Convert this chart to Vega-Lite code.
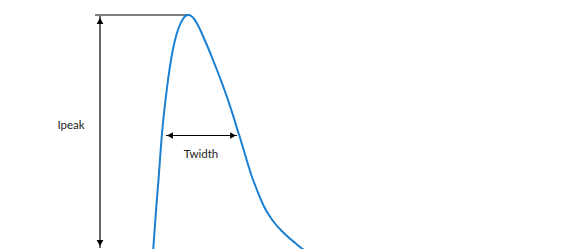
{
  "$schema": "https://vega.github.io/schema/vega-lite/v6.json",
  "width": 574,
  "height": 249,
  "autosize": {"type": "fit", "contains": "padding"},
  "padding": 0,
  "background": "white",
  "config": {"view": {"stroke": null}},
  "datasets": {
    "curve": [
      {"t": 152.6, "i": 262}, {"t": 153.3, "i": 249}, {"t": 155, "i": 225}, {"t": 156.8, "i": 200},
      {"t": 158.5, "i": 180}, {"t": 160.3, "i": 155}, {"t": 161.7, "i": 137}, {"t": 163.3, "i": 120},
      {"t": 165.5, "i": 100}, {"t": 168, "i": 80}, {"t": 171.5, "i": 57}, {"t": 175, "i": 40},
      {"t": 179, "i": 27}, {"t": 183, "i": 19}, {"t": 186, "i": 15.7}, {"t": 188.3, "i": 15},
      {"t": 191.5, "i": 16.2}, {"t": 194.3, "i": 19.2}, {"t": 197.3, "i": 24}, {"t": 200.3, "i": 30},
      {"t": 204.7, "i": 40}, {"t": 209, "i": 50}, {"t": 213, "i": 60}, {"t": 217, "i": 70},
      {"t": 220.8, "i": 80}, {"t": 224.5, "i": 90}, {"t": 228, "i": 100}, {"t": 231.3, "i": 110},
      {"t": 234.5, "i": 120}, {"t": 237.5, "i": 130}, {"t": 239.8, "i": 137}, {"t": 242.5, "i": 146},
      {"t": 245.5, "i": 156}, {"t": 248.8, "i": 167}, {"t": 252, "i": 177}, {"t": 255.4, "i": 186},
      {"t": 259.4, "i": 196}, {"t": 264, "i": 206.5}, {"t": 269.2, "i": 215.5}, {"t": 275, "i": 223.5},
      {"t": 281.3, "i": 230.5}, {"t": 287.8, "i": 236.7}, {"t": 294.6, "i": 242.5}, {"t": 301.7, "i": 248.3},
      {"t": 312, "i": 254.5}
    ],
    "rules": [
      {"x1": 95, "y1": 15, "x2": 190, "y2": 15},
      {"x1": 100, "y1": 16, "x2": 100, "y2": 248},
      {"x1": 166, "y1": 135.5, "x2": 237, "y2": 135.5}
    ],
    "heads": [
      {"x": 100, "y": 21, "dir": "triangle-up"},
      {"x": 100, "y": 243, "dir": "triangle-down"},
      {"x": 170, "y": 135.5, "dir": "triangle-left"},
      {"x": 233, "y": 135.5, "dir": "triangle-right"}
    ],
    "labels": [
      {"x": 71, "y": 126, "text": "Ipeak"},
      {"x": 201, "y": 155, "text": "Twidth"}
    ]
  },
  "layer": [
    {
      "data": {"name": "rules"},
      "mark": {"type": "rule", "color": "black", "strokeWidth": 1.2},
      "encoding": {
        "x": {"field": "x1", "type": "quantitative", "scale": {"domain": [0, 574], "nice": false, "zero": false}, "axis": null},
        "x2": {"field": "x2"},
        "y": {"field": "y1", "type": "quantitative", "scale": {"domain": [0, 249], "reverse": true, "nice": false, "zero": false}, "axis": null},
        "y2": {"field": "y2"}
      }
    },
    {
      "data": {"name": "heads"},
      "mark": {"type": "point", "filled": true, "color": "black", "size": 45, "opacity": 1},
      "encoding": {
        "x": {"field": "x", "type": "quantitative"},
        "y": {"field": "y", "type": "quantitative"},
        "shape": {"field": "dir", "type": "nominal", "scale": null}
      }
    },
    {
      "data": {"name": "curve"},
      "mark": {"type": "line", "color": "#1b80d2", "strokeWidth": 2, "interpolate": "monotone", "clip": true},
      "encoding": {
        "x": {"field": "t", "type": "quantitative"},
        "y": {"field": "i", "type": "quantitative"}
      }
    },
    {
      "data": {"name": "labels"},
      "mark": {"type": "text", "font": "Lato", "fontSize": 11.5, "color": "#222", "align": "center", "baseline": "middle"},
      "encoding": {
        "x": {"field": "x", "type": "quantitative"},
        "y": {"field": "y", "type": "quantitative"},
        "text": {"field": "text"}
      }
    }
  ]
}
